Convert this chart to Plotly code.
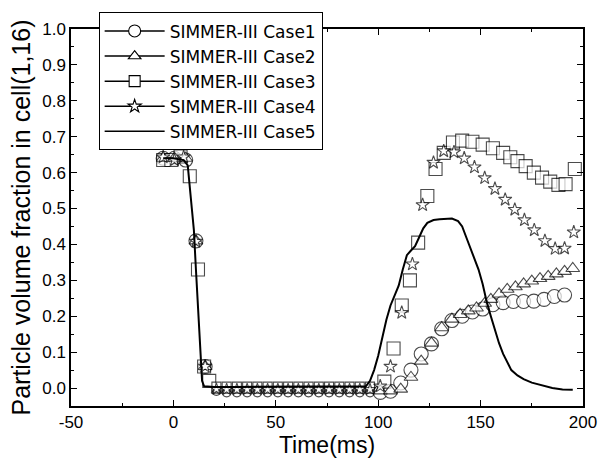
import plotly.graph_objects as go

# ---------------- data ----------------
case1_t = [-5, 0.5, 6, 11, 15.5,
           21, 26, 31, 36, 41, 46, 51, 56, 61, 66, 71, 76, 81, 86, 91, 96,
           101, 106, 111, 116, 121, 126, 131, 136, 141, 146, 151, 156, 161,
           166, 171, 176, 181, 186, 191]
case1_v = [0.64, 0.64, 0.635, 0.41, 0.06,
           -0.008, -0.012, -0.012, -0.012, -0.012, -0.012, -0.012, -0.012, -0.012,
           -0.012, -0.012, -0.012, -0.012, -0.012, -0.012, -0.012,
           -0.012, -0.009, 0.014, 0.05, 0.095, 0.123, 0.165, 0.188, 0.2, 0.212,
           0.22, 0.232, 0.238, 0.241, 0.241, 0.242, 0.247, 0.255, 0.259]

case2_t = [-5, 0.5, 6, 11, 15.5,
           21, 26, 31, 36, 41, 46, 51, 56, 61, 66, 71, 76, 81, 86, 91, 96,
           101, 106, 111, 116, 121, 126, 131, 136, 140, 144, 148, 152, 155, 159,
           163, 167, 171, 175, 179, 183, 187, 191, 195]
case2_v = [0.64, 0.64, 0.64, 0.41, 0.06,
           -0.008, -0.008, -0.008, -0.008, -0.008, -0.008, -0.008, -0.008,
           -0.008, -0.008, -0.008, -0.008, -0.008, -0.008, -0.008, -0.008,
           -0.008, -0.008, -0.003, 0.03, 0.075, 0.125, 0.168, 0.192, 0.205, 0.215,
           0.223, 0.236, 0.247, 0.262, 0.275, 0.282, 0.29, 0.298, 0.305, 0.311,
           0.318, 0.325, 0.333]

case3_t = [-5, -1, 3.5, 8, 12, 15, 17.5,
           21, 26, 31, 36, 41, 46, 51, 56, 61, 66, 71, 76, 81, 86, 91, 96,
           103, 107.5, 111.5, 115.5, 119.5, 124, 128, 132, 136.5, 141, 146, 151,
           156, 161, 164.5, 168, 172, 176, 180, 184, 188, 191.5, 196]
case3_v = [0.635, 0.635, 0.645, 0.59, 0.33, 0.06, 0.02,
           0.004, 0.004, 0.004, 0.004, 0.004, 0.004, 0.004, 0.004, 0.004, 0.004,
           0.004, 0.004, 0.004, 0.004, 0.004, 0.004,
           0.018, 0.11, 0.23, 0.30, 0.405, 0.535, 0.61, 0.655, 0.684, 0.689,
           0.686, 0.678, 0.668, 0.655, 0.643, 0.632, 0.618, 0.6, 0.586, 0.575,
           0.566, 0.568, 0.61]

case4_t = [-5, 0.5, 5, 11, 15.5,
           21, 26, 31, 36, 41, 46, 51, 56, 61, 66, 71, 76, 81, 86, 91, 96,
           101, 106, 111.5, 116.7, 121.7, 127, 132, 137, 142, 147, 152, 157, 162,
           166.7, 171.4, 176.2, 181.4, 186.4, 191, 195.5]
case4_v = [0.643, 0.635, 0.643, 0.408, 0.06,
           -0.003, -0.004, -0.004, -0.004, -0.004, -0.004, -0.004, -0.004, -0.004,
           -0.004, -0.004, -0.004, -0.004, -0.004, -0.004, -0.004,
           0.005, 0.06, 0.21, 0.345, 0.51, 0.628, 0.66, 0.657, 0.64, 0.615, 0.585,
           0.555, 0.525, 0.497, 0.468, 0.44, 0.41, 0.388, 0.389, 0.434]

case5_t = [-5, 0, 5, 7, 9, 10, 11, 12, 13, 14, 15, 20, 30, 40, 50, 60, 70, 80, 90,
           94, 96, 98, 100, 102, 104, 106, 108, 110, 112, 114, 116, 118, 120, 122,
           124, 127, 130, 133, 136, 139, 141, 143, 145, 147, 149, 151, 153, 155,
           157, 159, 161, 163, 165, 168, 171, 175, 180, 185, 190, 195]
case5_v = [0.64, 0.64, 0.635, 0.62, 0.5, 0.44, 0.33, 0.22, 0.1, 0.02, 0.005, 0.003,
           0.003, 0.003, 0.003, 0.003, 0.003, 0.003, 0.003,
           0.005, 0.02, 0.05, 0.09, 0.14, 0.19, 0.23, 0.26, 0.285, 0.33, 0.37,
           0.383, 0.395, 0.42, 0.445, 0.46, 0.468, 0.47, 0.472, 0.472, 0.465, 0.45,
           0.42, 0.39, 0.36, 0.33, 0.29, 0.24, 0.2, 0.16, 0.125, 0.095, 0.07, 0.05,
           0.035, 0.025, 0.015, 0.008, 0.0, -0.004, -0.005]

names = ["SIMMER-III Case1", "SIMMER-III Case2", "SIMMER-III Case3",
         "SIMMER-III Case4", "SIMMER-III Case5"]
x_ticks = [-50, 0, 50, 100, 150, 200]
y_ticks = [0.0, 0.1, 0.2, 0.3, 0.4, 0.5, 0.6, 0.7, 0.8, 0.9, 1.0]

FONT = "Liberation Sans, Arial, sans-serif"
LEG_FONT = "DejaVu Sans, Liberation Sans, sans-serif"


def sizes(ts, big):
    # markers in the flat plateau appear smaller in the original picture
    return [9 if 18 < t < 99 else big for t in ts]


fig = go.Figure()

series = [
    (case1_t, case1_v, "circle", 14),
    (case3_t, case3_v, "square", 13),
    (case2_t, case2_v, "triangle-up", 12),
    (case4_t, case4_v, "star", 10),
]
for ts, vs, sym, big in series:
    fig.add_trace(go.Scatter(
        x=ts, y=vs, mode="markers", showlegend=False,
        marker=dict(symbol=sym, size=sizes(ts, big), color="white",
                    line=dict(color="black", width=1.1)),
    ))

fig.add_trace(go.Scatter(x=case5_t, y=case5_v, mode="lines", showlegend=False,
                         line=dict(color="black", width=2)))

# legend entries
leg = [("circle", 12), ("triangle-up", 11), ("square", 11), ("star", 10)]
for nm, (sym, sz) in zip(names[:4], leg):
    fig.add_trace(go.Scatter(
        x=[None], y=[None], mode="lines+markers", name=nm,
        line=dict(color="black", width=1.5),
        marker=dict(symbol=sym, size=sz, color="white",
                    line=dict(color="black", width=1.1)),
    ))
fig.add_trace(go.Scatter(x=[None], y=[None], mode="lines", name=names[4],
                         line=dict(color="black", width=1.5)))

axis_common = dict(
    showline=True, linecolor="black", linewidth=1.5, mirror="ticks",
    ticks="inside", ticklen=6, tickwidth=1.2, tickcolor="black",
    showgrid=False, zeroline=False,
    tickfont=dict(family=FONT, size=17, color="black"),
    minor=dict(ticks="inside", ticklen=3, tickwidth=1, tickcolor="black"),
)

fig.update_xaxes(range=[-50, 200], tickvals=x_ticks,
                 ticktext=[str(v) for v in x_ticks],
                 title=dict(text="Time(ms)", font=dict(family=FONT, size=23, color="black"),
                            standoff=2),
                 minor_dtick=25, **axis_common)
fig.update_yaxes(range=[-0.05, 1.0], tickvals=y_ticks,
                 ticktext=[f"{v:.1f}" for v in y_ticks],
                 title=dict(text="Particle volume fraction in cell(1,16)",
                            font=dict(family=FONT, size=25, color="black"),
                            standoff=4),
                 minor_dtick=0.05, **axis_common)

fig.update_layout(
    width=609, height=462,
    margin=dict(l=71, r=15, t=26, b=53),
    plot_bgcolor="white", paper_bgcolor="white",
    font=dict(family=FONT, color="black"),
    legend=dict(x=0.054, y=1.044, xanchor="left", yanchor="top",
                bgcolor="white", bordercolor="black", borderwidth=1,
                font=dict(family=LEG_FONT, size=17, color="black"),
                itemwidth=60, tracegroupgap=0),
)

fig.write_html("out.html")
